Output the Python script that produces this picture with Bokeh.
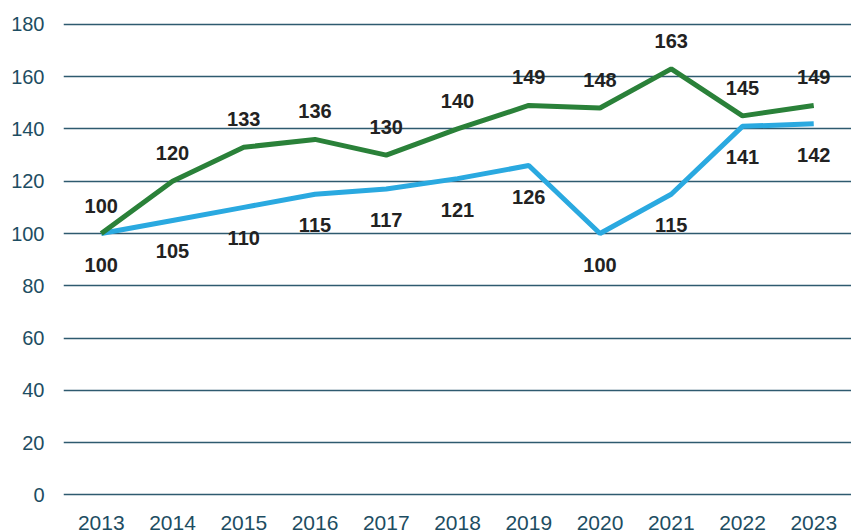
from bokeh.plotting import figure
from bokeh.models import FixedTicker, ColumnDataSource
from bokeh.core.properties import value
from bokeh.embed import file_html
from bokeh.resources import INLINE

years = [2013, 2014, 2015, 2016, 2017, 2018, 2019, 2020, 2021, 2022, 2023]
green_vals = [100, 120, 133, 136, 130, 140, 149, 148, 163, 145, 149]
blue_vals = [100, 105, 110, 115, 117, 121, 126, 100, 115, 141, 142]
y_ticks = [0, 20, 40, 60, 80, 100, 120, 140, 160, 180]

GREEN = "#2a8139"
BLUE = "#2aa9e0"
AXIS_COL = "#1d4d62"
GRID_COL = "#2e5a6f"

p = figure(width=851, height=532, output_backend="svg", toolbar_location=None,
           x_range=(2012.47, 2023.53), y_range=(-1, 181.5),
           min_border_left=63, min_border_right=0, min_border_top=20, min_border_bottom=34)
p.outline_line_color = None
p.background_fill_color = "white"
p.border_fill_color = "white"

p.xgrid.grid_line_color = None
p.ygrid.grid_line_color = GRID_COL
p.ygrid.grid_line_width = 1.5
p.ygrid.ticker = FixedTicker(ticks=y_ticks)

p.xaxis.ticker = FixedTicker(ticks=years)
p.yaxis.ticker = FixedTicker(ticks=y_ticks)
for ax in (p.xaxis, p.yaxis):
    ax.axis_line_color = None
    ax.major_tick_line_color = None
    ax.minor_tick_line_color = None
    ax.major_tick_out = 0
    ax.major_tick_in = 0
    ax.major_label_text_font = "Liberation Sans"
    ax.major_label_text_color = AXIS_COL
p.yaxis.major_label_text_font_size = "20px"
p.xaxis.major_label_text_font_size = "21px"
p.yaxis.major_label_standoff = 19
p.xaxis.major_label_standoff = 18

src_g = ColumnDataSource(dict(x=years, y=green_vals, t=[str(v) for v in green_vals]))
src_b = ColumnDataSource(dict(x=years, y=blue_vals, t=[str(v) for v in blue_vals]))

p.line("x", "y", source=src_b, line_color=BLUE, line_width=5)
p.line("x", "y", source=src_g, line_color=GREEN, line_width=5)

common = dict(text_font=value("Liberation Sans"), text_font_style="bold",
              text_font_size="20px", text_color="#222222",
              text_align="center", text_baseline="middle")
p.text("x", "y", text="t", source=src_g, y_offset=-28, **common)
p.text("x", "y", text="t", source=src_b, y_offset=31, **common)

open("out.html", "w").write(file_html(p, INLINE))
